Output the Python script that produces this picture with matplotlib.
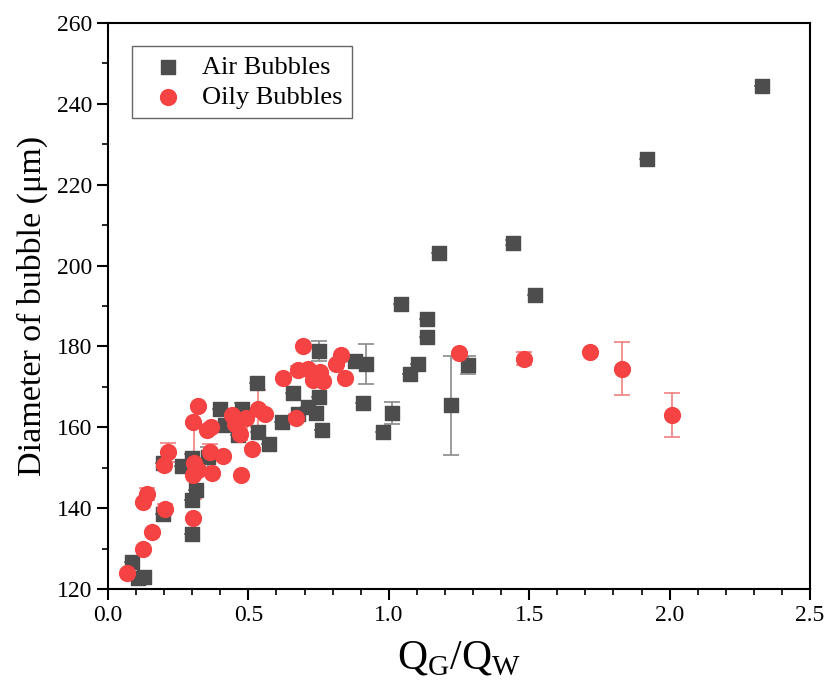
import matplotlib
matplotlib.use('Agg')
import matplotlib.pyplot as plt
import numpy as np
from matplotlib.ticker import MultipleLocator

plt.rcParams['font.family'] = 'Liberation Serif'
plt.rcParams['mathtext.fontset'] = 'custom'
plt.rcParams['mathtext.rm'] = 'Liberation Serif'

# air bubbles (gray squares)
air_x = [0.087, 0.105, 0.128, 0.196, 0.196, 0.262, 0.298, 0.298, 0.315, 0.298,
         0.357, 0.399, 0.417, 0.476, 0.464, 0.535, 0.529, 0.575, 0.621, 0.658,
         0.677, 0.713, 0.742, 0.75, 0.75, 0.763, 0.88, 0.918, 0.909, 0.98,
         1.01, 1.043, 1.075, 1.104, 1.136, 1.136, 1.179, 1.223, 1.283, 1.444,
         1.52, 1.92, 2.328]
air_y = [126.7, 122.6, 123.0, 151.1, 138.5, 150.5, 152.3, 142.0, 144.4, 133.6,
         152.7, 164.6, 160.5, 164.4, 158.0, 158.8, 171.0, 155.8, 161.3, 168.5,
         163.4, 165.0, 163.5, 167.6, 178.9, 159.3, 176.3, 175.7, 166.1, 158.8,
         163.5, 190.6, 173.3, 175.7, 186.9, 182.3, 203.0, 165.4, 175.5, 205.7,
         192.8, 226.3, 244.4]
air_err = [0, 0, 0, 0, 0, 0, 1.0, 0, 0, 0,
           2.5, 0, 0, 1.5, 0, 0, 0, 0, 0, 0,
           0, 0, 0, 0, 2.4, 0, 0, 5.0, 0, 0,
           2.7, 0, 0, 0, 0, 0, 0, 12.3, 2.2, 0.5,
           0, 0, 0]

# oily bubbles (red circles)
oil_x = [0.066, 0.126, 0.156, 0.123, 0.14, 0.203, 0.2, 0.215, 0.304, 0.307,
         0.304, 0.321, 0.301, 0.321, 0.351, 0.367, 0.363, 0.372, 0.408, 0.44,
         0.453, 0.47, 0.49, 0.472, 0.512, 0.535, 0.559, 0.622, 0.668, 0.677,
         0.694, 0.713, 0.731, 0.755, 0.767, 0.812, 0.829, 0.844, 1.25, 1.482,
         1.717, 1.83, 2.01]
oil_y = [123.9, 130.0, 134.2, 141.4, 143.5, 139.9, 150.6, 153.8, 137.6, 151.2,
         148.1, 149.4, 161.2, 165.3, 159.3, 160.1, 153.9, 148.7, 152.8, 163.0,
         160.9, 158.4, 162.4, 148.1, 154.7, 164.6, 163.4, 172.3, 162.3, 174.1,
         180.1, 174.5, 171.6, 173.7, 171.4, 175.7, 178.0, 172.3, 178.4, 177.0,
         178.6, 174.5, 163.1]
oil_err = [0, 0, 0, 0, 1.6, 1.0, 0, 2.4, 0, 9.0,
           0, 0, 0, 0, 0, 0, 2.0, 0, 0, 0,
           0, 1.5, 0, 0, 0, 4.6, 0, 0, 1.0, 1.0,
           0, 0, 0, 0, 0, 0, 0, 0, 0, 1.6,
           0, 6.5, 5.5]

fig = plt.figure(figsize=(8.29, 6.94), dpi=100)
ax = fig.add_axes([0.1303, 0.1513, 0.8468, 0.8156])

ax.errorbar(air_x, air_y, yerr=air_err, fmt='none', ecolor='#8a8a8a',
            elinewidth=1.2, capsize=6, capthick=1.2, zorder=2)
ax.errorbar(oil_x, oil_y, yerr=oil_err, fmt='none', ecolor='#f08080',
            elinewidth=1.2, capsize=6, capthick=1.2, zorder=2)
ax.scatter(air_x, air_y, marker='s', s=110, color='#4d4d4d', label='Air Bubbles', zorder=3)
ax.scatter(oil_x, oil_y, marker='o', s=130, color='#f54242', label='Oily Bubbles', zorder=4)

ax.set_xlim(0, 2.5)
ax.set_ylim(120, 260)
ax.xaxis.set_major_locator(MultipleLocator(0.5))
ax.xaxis.set_minor_locator(MultipleLocator(0.1))
ax.yaxis.set_major_locator(MultipleLocator(20))
ax.yaxis.set_minor_locator(MultipleLocator(10))
ax.xaxis.set_major_formatter(matplotlib.ticker.FormatStrFormatter('%.1f'))
ax.tick_params(which='major', direction='out', length=8, width=1.5, labelsize=17)
ax.tick_params(which='minor', direction='out', length=4, width=1.2)
for s in ax.spines.values():
    s.set_linewidth(1.5)

ax.set_xlabel(r'Q$_\mathrm{G}$/Q$_\mathrm{W}$', fontsize=30, labelpad=10)
ax.set_ylabel('Diameter of bubble (μm)', fontsize=24.5, labelpad=6)

leg = ax.legend(loc='upper left', bbox_to_anchor=(0.034, 0.959), fontsize=19,
                fancybox=False, framealpha=1, edgecolor='#666666',
                handletextpad=0.3, borderpad=0.35, labelspacing=0.25,
                borderaxespad=0)
leg.get_frame().set_linewidth(1.0)

fig.savefig('out.png', dpi=100)
